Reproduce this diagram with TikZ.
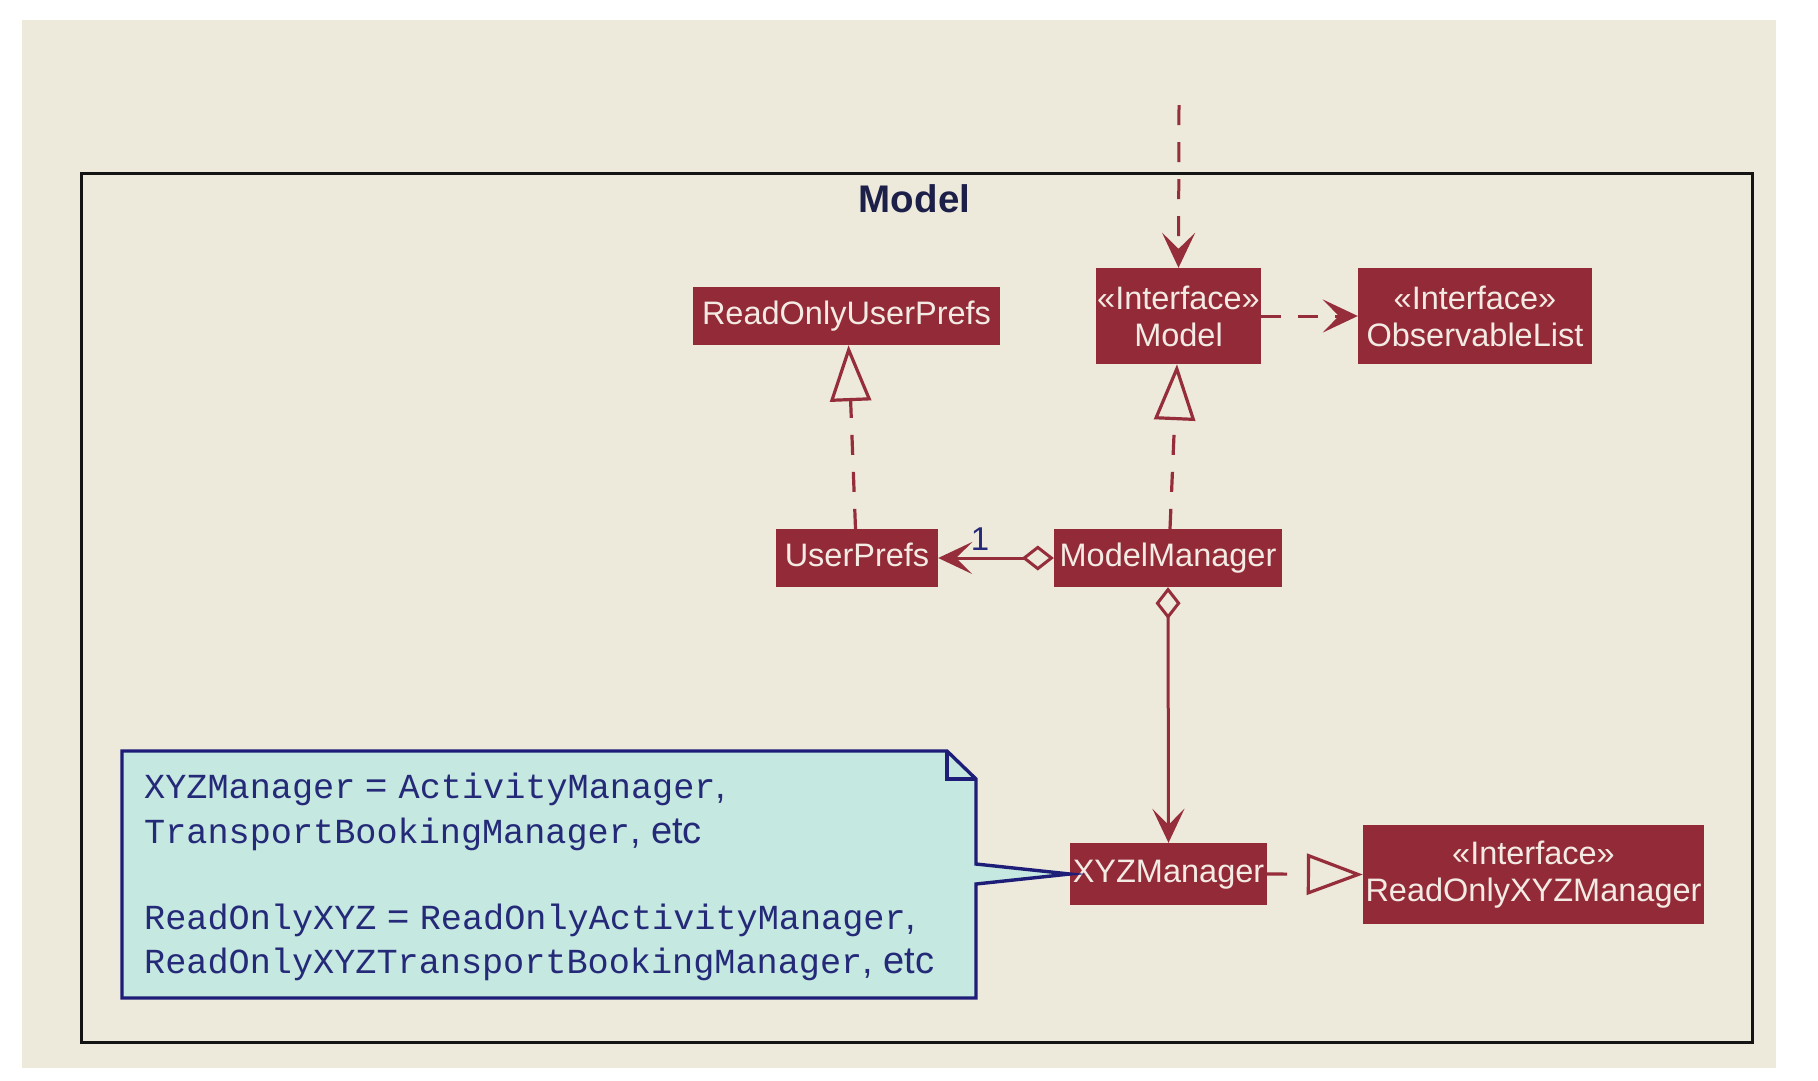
\documentclass[tikz,border=0pt]{standalone}
\usepackage{fontspec}
\setmainfont{Liberation Sans}
\newfontfamily\codefont{Liberation Mono}
\usetikzlibrary{arrows.meta}

\definecolor{pagebg}{HTML}{EDE9DB}
\definecolor{classfill}{HTML}{922A37}
\definecolor{classtext}{HTML}{F3EBE3}
\definecolor{linkcol}{HTML}{952D3B}
\definecolor{notefill}{HTML}{C5E8E1}
\definecolor{noteline}{HTML}{1E1E78}
\definecolor{notetext}{HTML}{242A78}
\definecolor{titlecol}{HTML}{1C1F48}

% monospaced identifiers inside the note
\newcommand\codeword[1]{{\codefont\fontsize{35.2}{44}\selectfont #1}}

\begin{document}
\begin{tikzpicture}[x=1pt,y=-1pt,
  classbox/.style={fill=classfill, text=classtext, inner sep=0pt,
    font=\fontsize{32.5}{37}\selectfont, text height=24pt, text depth=7pt},
  ifacebox/.style={fill=classfill, text=classtext, inner sep=0pt, align=center,
    font=\fontsize{32.5}{37}\selectfont},
  notebody/.style={fill=notefill, draw=noteline, line width=3.4pt, line join=miter},
  notetxt/.style={inner sep=0pt, anchor=base west, text=notetext,
    font=\fontsize{38}{44}\selectfont},
  dep/.style={draw=linkcol, line width=3pt, dash pattern=on 20pt off 17pt,
    -{Stealth[length=35pt,width=33pt,inset=16pt]}},
  realize/.style={draw=linkcol, line width=3.2pt, dash pattern=on 20pt off 17pt,
    -{Triangle[open,length=56pt,width=41pt,fill=pagebg]}},
  aggreg/.style={draw=linkcol, line width=3pt,
    {Diamond[open,length=32pt,width=25pt,fill=pagebg]}-{Stealth[length=34pt,width=32pt,inset=16pt]}}
]
\useasboundingbox (0,0) rectangle (1818,1080);
\fill[pagebg] (22,20) rectangle (1776,1068);

% package frame and its title
\draw[line width=3pt, black!92] (81,173) rectangle (1752,1042);
\node[inner sep=0pt, anchor=base, text=titlecol,
  font=\fontsize{38.5}{40}\selectfont\bfseries] (pkgtitle) at (914.5,212) {Model};

% classes and interfaces
\node[classbox, minimum width=307pt, minimum height=58pt] (roup) at (846.5,316) {ReadOnlyUserPrefs};
\node[ifacebox, minimum width=165pt, minimum height=96pt] (model) at (1178.5,316) {«Interface»\\Model};
\node[ifacebox, minimum width=234pt, minimum height=96pt] (obs) at (1475,316) {«Interface»\\ObservableList};
\node[classbox, minimum width=162pt, minimum height=58pt] (up) at (857,558) {UserPrefs};
\node[classbox, minimum width=228pt, minimum height=58pt] (mm) at (1168,558) {ModelManager};
\node[classbox, minimum width=197pt, minimum height=62pt] (xyz) at (1168.5,874) {XYZManager};
\node[ifacebox, minimum width=341pt, minimum height=99pt] (roxyz) at (1533.5,874.5) {«Interface»\\ReadOnlyXYZManager};

% note attached to XYZManager
\path[notebody] (122,751) -- (947,751) -- (976,779) -- (976,864) -- (xyz.west)
  -- (976,884) -- (976,998) -- (122,998) -- cycle;
\draw[draw=noteline, line width=3.4pt] (947,751) -- (947,779) -- (976,779);
\node[notetxt] (nl1) at (144,798) {\codeword{XYZManager} = \codeword{ActivityManager},};
\node[notetxt] (nl2) at (144,843) {\codeword{TransportBookingManager}, etc};
\node[notetxt] (nl3) at (144,929) {\codeword{ReadOnlyXYZ} = \codeword{ReadOnlyActivityManager},};
\node[notetxt] (nl4) at (144,973) {\codeword{ReadOnlyXYZTransportBookingManager}, etc};

% relations
\coordinate (outside) at (1179,105);
\draw[dep] (outside) -- (model.north);
\draw[dep] (model.east) -- (obs.west);
\draw[realize] ([xshift=-1.5pt]up.north) -- ([xshift=2pt]roup.south);
\draw[realize] ([xshift=2pt]mm.north) -- ([xshift=-1.5pt]model.south);
\draw[realize, dash pattern=on 20pt off 22pt] (xyz.east) -- (roxyz.west);
\draw[aggreg] (mm.west) -- (up.east);
\draw[aggreg] (mm.south) -- (xyz.north);
\node[inner sep=0pt, anchor=base, text=notetext, font=\fontsize{33}{33}\selectfont] (mult) at (980,550) {1};
\end{tikzpicture}
\end{document}
